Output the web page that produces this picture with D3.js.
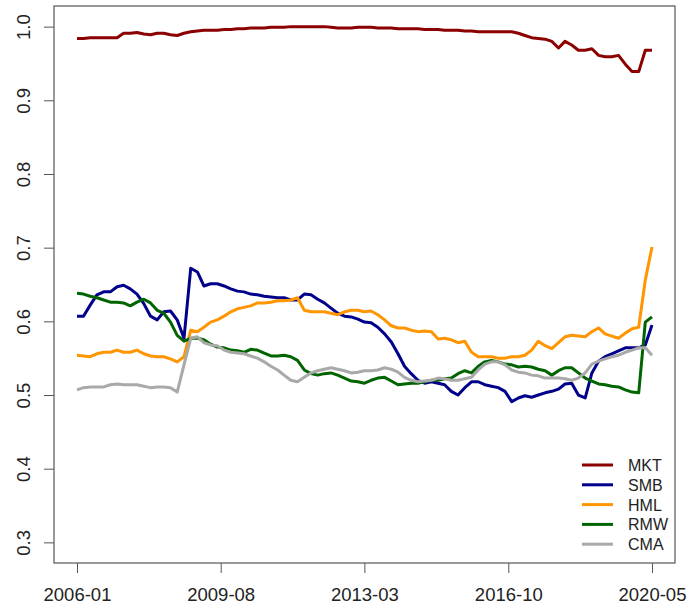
<!DOCTYPE html>
<html>
<head>
<meta charset="utf-8">
<script src="https://cdn.jsdelivr.net/npm/d3@7"></script>
<style>
  body { margin: 0; background: #fff; }
  svg text { font-family: "Liberation Sans", Arial, sans-serif; fill: #222; }
</style>
</head>
<body>
<svg width="688" height="606"></svg>
<script>
// factor names + colours
var factors = ["MKT", "SMB", "HML", "RMW", "CMA"];
var colors = ["#8b0000", "#00008b", "#ff9500", "#006400", "#a9a9a9"];

// x axis labels (every 43 months)
var tickLabels = ["2006-01", "2009-08", "2013-03", "2016-10", "2020-05"];

// values, one every two months from 2006-01 to 2020-05
var mkt = [0.984, 0.984, 0.985, 0.985, 0.985, 0.985, 0.985, 0.991, 0.991, 0.992,
  0.990, 0.989, 0.991, 0.991, 0.989, 0.988, 0.991, 0.993, 0.994, 0.995,
  0.995, 0.995, 0.996, 0.996, 0.997, 0.997, 0.998, 0.998, 0.998, 0.999,
  0.999, 0.999, 1.000, 1.000, 1.000, 1.000, 1.000, 1.000, 0.999, 0.998,
  0.998, 0.998, 0.999, 0.999, 0.999, 0.998, 0.998, 0.998, 0.997, 0.997,
  0.997, 0.997, 0.996, 0.996, 0.996, 0.995, 0.995, 0.995, 0.994, 0.994,
  0.993, 0.993, 0.993, 0.993, 0.993, 0.993, 0.991, 0.988, 0.985, 0.984,
  0.983, 0.980, 0.971, 0.980, 0.975, 0.968, 0.968, 0.970, 0.961, 0.959,
  0.959, 0.961, 0.949, 0.939, 0.939, 0.968, 0.968];
var smb = [0.607, 0.607, 0.622, 0.636, 0.640, 0.640, 0.647, 0.649, 0.644, 0.637,
  0.624, 0.607, 0.602, 0.613, 0.614, 0.602, 0.577, 0.672, 0.667, 0.648,
  0.651, 0.651, 0.648, 0.644, 0.641, 0.640, 0.637, 0.636, 0.634, 0.633,
  0.632, 0.632, 0.629, 0.629, 0.637, 0.636, 0.630, 0.625, 0.618, 0.611,
  0.607, 0.606, 0.603, 0.599, 0.598, 0.592, 0.583, 0.572, 0.556, 0.539,
  0.529, 0.520, 0.516, 0.518, 0.516, 0.514, 0.505, 0.500, 0.510, 0.518,
  0.518, 0.514, 0.512, 0.510, 0.505, 0.491, 0.496, 0.499, 0.497, 0.500,
  0.503, 0.505, 0.508, 0.515, 0.516, 0.500, 0.496, 0.530, 0.546, 0.552,
  0.556, 0.560, 0.564, 0.564, 0.564, 0.568, 0.595];
var hml = [0.554, 0.553, 0.552, 0.556, 0.558, 0.558, 0.561, 0.558, 0.558, 0.561,
  0.556, 0.553, 0.552, 0.552, 0.549, 0.545, 0.552, 0.588, 0.586, 0.592,
  0.599, 0.602, 0.607, 0.613, 0.617, 0.619, 0.621, 0.625, 0.625, 0.626,
  0.628, 0.628, 0.629, 0.632, 0.615, 0.613, 0.613, 0.613, 0.611, 0.609,
  0.613, 0.615, 0.615, 0.613, 0.614, 0.609, 0.602, 0.594, 0.591, 0.591,
  0.588, 0.586, 0.587, 0.586, 0.576, 0.577, 0.575, 0.571, 0.573, 0.558,
  0.552, 0.552, 0.552, 0.550, 0.550, 0.552, 0.552, 0.554, 0.561, 0.573,
  0.567, 0.563, 0.571, 0.579, 0.581, 0.580, 0.579, 0.586, 0.591, 0.583,
  0.580, 0.577, 0.584, 0.590, 0.592, 0.656, 0.701];
var rmw = [0.638, 0.637, 0.634, 0.632, 0.629, 0.626, 0.626, 0.625, 0.621, 0.626,
  0.630, 0.625, 0.615, 0.611, 0.599, 0.581, 0.573, 0.577, 0.577, 0.575,
  0.569, 0.565, 0.564, 0.561, 0.560, 0.558, 0.562, 0.561, 0.557, 0.553,
  0.553, 0.554, 0.552, 0.547, 0.534, 0.529, 0.527, 0.529, 0.530, 0.527,
  0.523, 0.519, 0.518, 0.516, 0.520, 0.523, 0.524, 0.519, 0.514, 0.515,
  0.516, 0.516, 0.518, 0.520, 0.520, 0.522, 0.523, 0.529, 0.533, 0.530,
  0.539, 0.545, 0.547, 0.545, 0.542, 0.541, 0.538, 0.539, 0.538, 0.535,
  0.533, 0.527, 0.533, 0.537, 0.537, 0.530, 0.523, 0.519, 0.515, 0.514,
  0.512, 0.511, 0.507, 0.504, 0.503, 0.599, 0.606];
var cma = [0.507, 0.510, 0.511, 0.511, 0.511, 0.514, 0.515, 0.514, 0.514, 0.514,
  0.512, 0.510, 0.511, 0.511, 0.510, 0.504, 0.541, 0.577, 0.579, 0.571,
  0.568, 0.567, 0.561, 0.558, 0.557, 0.556, 0.553, 0.550, 0.545, 0.539,
  0.534, 0.527, 0.520, 0.518, 0.524, 0.530, 0.533, 0.535, 0.537, 0.535,
  0.533, 0.530, 0.531, 0.533, 0.533, 0.534, 0.537, 0.535, 0.531, 0.524,
  0.520, 0.518, 0.519, 0.520, 0.523, 0.522, 0.520, 0.520, 0.522, 0.524,
  0.534, 0.542, 0.545, 0.545, 0.541, 0.534, 0.531, 0.530, 0.527, 0.526,
  0.523, 0.523, 0.523, 0.522, 0.520, 0.523, 0.530, 0.542, 0.546, 0.549,
  0.552, 0.554, 0.558, 0.561, 0.564, 0.564, 0.554];

var series = [mkt, smb, hml, rmw, cma];

var svg = d3.select("svg");
// plot box (window.top is taken, so own names)
var boxL = 54, boxR = 675, boxT = 6, boxB = 563;

var parse = d3.utcParse("%Y-%m");
var start = parse("2006-01"), end = parse("2020-05");
var dates = d3.utcMonth.every(2).range(start, d3.utcMonth.offset(end, 1));

// R style 4% padding
var span = end - start;
var x = d3.scaleUtc()
  .domain([new Date(+start - span * 0.04), new Date(+end + span * 0.04)])
  .range([boxL, boxR]);
var y = d3.scaleLinear()
  .domain([0.3 - 0.7 * 0.04, 1.0 + 0.7 * 0.04])
  .range([boxB, boxT]);

// lines
var line = d3.line()
  .x(function(d, i) { return x(dates[i]); })
  .y(function(d) { return y(d); });

svg.append("g")
  .selectAll("path")
  .data(series)
  .enter()
  .append("path")
  .attr("d", line)
  .attr("fill", "none")
  .attr("stroke", function(d, i) { return colors[i]; })
  .attr("stroke-width", 3)
  .attr("stroke-linejoin", "round");

// box
svg.append("rect")
  .attr("x", boxL).attr("y", boxT)
  .attr("width", boxR - boxL).attr("height", boxB - boxT)
  .attr("fill", "none").attr("stroke", "#555").attr("stroke-width", 1.2);

// x axis
var xAxis = svg.append("g")
  .attr("transform", "translate(0," + boxB + ")")
  .call(d3.axisBottom(x)
    .tickValues(tickLabels.map(parse))
    .tickFormat(d3.utcFormat("%Y-%m"))
    .tickSize(10).tickSizeOuter(0));
xAxis.select(".domain").remove();
xAxis.selectAll("line").attr("stroke", "#555");
xAxis.selectAll("text")
  .attr("y", 38).attr("dy", 0)
  .attr("font-size", 18.5)
  .attr("fill", "#222");

// y axis, labels turned like R's default las=0
var yAxis = svg.append("g")
  .attr("transform", "translate(" + boxL + ",0)")
  .call(d3.axisLeft(y)
    .tickValues(d3.range(3, 11).map(function(v) { return v / 10; }))
    .tickFormat(d3.format(".1f"))
    .tickSize(10).tickSizeOuter(0));
yAxis.select(".domain").remove();
yAxis.selectAll("line").attr("stroke", "#555");
yAxis.selectAll("text")
  .attr("transform", "rotate(-90)")
  .attr("x", 0).attr("y", -24).attr("dy", 0)
  .attr("text-anchor", "middle")
  .attr("font-size", 18.5)
  .attr("fill", "#222");

// legend
var legend = svg.append("g")
  .selectAll("g")
  .data(factors)
  .enter()
  .append("g")
  .attr("transform", function(d, i) { return "translate(582," + (465 + i * 19.8) + ")"; });
legend.append("line")
  .attr("x1", 0).attr("x2", 31)
  .attr("stroke", function(d, i) { return colors[i]; })
  .attr("stroke-width", 3);
legend.append("text")
  .attr("x", 46).attr("y", 6)
  .attr("font-size", 16)
  .text(function(d) { return d; });
</script>
</body>
</html>
